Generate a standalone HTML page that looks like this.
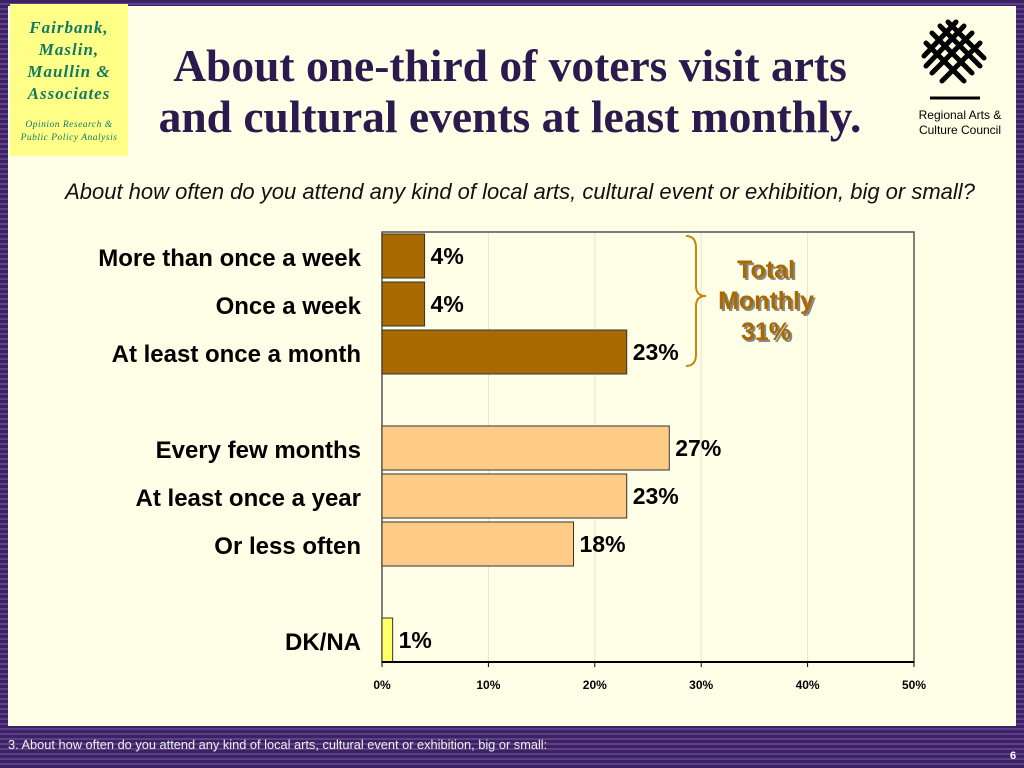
<!DOCTYPE html>
<html><head><meta charset="utf-8"><style>
body{margin:0;width:1024px;height:768px;overflow:hidden;font-family:"Liberation Sans",sans-serif}
#bg{position:absolute;left:0;top:0;width:1024px;height:768px;background:repeating-linear-gradient(#3a2360 0 3px,#5e3f8c 3px 5px)}
#cream{position:absolute;left:8px;top:6px;width:1008px;height:720px;background:#ffffe8}
#logo{position:absolute;left:10px;top:4px;width:118px;height:152px;background:#ffff88;text-align:center;font-family:"Liberation Serif",serif;color:#127a64;font-style:italic;font-weight:bold}
</style></head><body>
<div id="bg"></div>
<div id="cream"></div>
<div id="logo">
<div style="font-size:17px;line-height:22px;margin-top:13px;letter-spacing:1px">Fairbank,<br>Maslin,<br>Maullin &amp;<br>Associates</div>
<div style="font-size:9.5px;font-weight:normal;line-height:13px;margin-top:14px;letter-spacing:0.5px">Opinion Research &amp;<br>Public Policy Analysis</div>
</div>
<div style="position:absolute;left:120px;top:40px;width:780px;text-align:center;font-family:'Liberation Serif',serif;font-weight:bold;font-size:45.5px;line-height:51px;color:#2a1a4e">About one-third of voters visit arts<br>and cultural events at least monthly.</div>
<svg style="position:absolute;left:920px;top:18px" width="70" height="82" viewBox="0 0 70 82">
<g stroke="#000" stroke-width="5" fill="none" stroke-linecap="round">
<path d="M12 15 L52 55 M20 8 L60 48 M6 25 L44 63 M28 4 L64 40"/>
<path d="M52 15 L12 55 M44 8 L6 48 M60 25 L22 63 M36 4 L4 38"/>
</g>
<line x1="10" y1="80" x2="60" y2="80" stroke="#000" stroke-width="3"/>
</svg>
<div style="position:absolute;left:910px;top:108px;width:100px;text-align:center;font-size:12px;line-height:15px">Regional Arts &amp;<br>Culture Council</div>
<div style="position:absolute;left:0;top:179px;width:1040px;text-align:center;font-style:italic;font-size:22px;color:#111;white-space:nowrap">About how often do you attend any kind of local arts, cultural event or exhibition, big or small?</div>
<svg id="chart" style="position:absolute;left:0;top:0" width="1024" height="768"></svg>
<div style="position:absolute;left:8px;top:737px;font-size:12.8px;color:#eee">3. About how often do you attend any kind of local arts, cultural event or exhibition, big or small:</div>
<div style="position:absolute;left:1010px;top:750px;font-size:11px;font-weight:bold;color:#fff">6</div>
<script>
const categories=["More than once a week","Once a week","At least once a month","Every few months","At least once a year","Or less often","DK/NA"];
const values=[4,4,23,27,23,18,1];
const rowIndex=[0,1,2,4,5,6,8];
const groups=[0,0,0,1,1,1,2];
const ticks=[0,10,20,30,40,50];
const colors=["#a86a00","#ffcc88","#ffff66"];
const NS="http://www.w3.org/2000/svg";
const svg=document.getElementById('chart');
const X0=382,X1=914,Y0=232,Y1=662;
const xs=v=>X0+(X1-X0)*v/50;
const yc=i=>Y0+24+i*48;
function el(t,a){const e=document.createElementNS(NS,t);for(const k in a)e.setAttribute(k,a[k]);svg.appendChild(e);return e;}
ticks.forEach(t=>{
 const g=el('line',{x1:xs(t),x2:xs(t),y1:Y0,y2:Y1,stroke:t===0?'none':'#e4e4d0'});
 
 
 const tk=el('line',{x1:xs(t),x2:xs(t),y1:Y1,y2:Y1+5,stroke:'#000'});
 
 
 const tx=el('text',{x:xs(t),y:Y1+27,'text-anchor':'middle','font-size':12,'font-weight':'bold'});
 tx.textContent=t+'%';
 
 
});
const fr=el('rect',{x:X0,y:Y0,width:X1-X0,height:Y1-Y0,fill:'none',stroke:'#555','stroke-width':1.5});


categories.forEach((c,i)=>{
 const y=yc(rowIndex[i]);
 const b=el('rect',{x:X0,y:y-22,width:xs(values[i])-X0,height:44,fill:colors[groups[i]],stroke:'#333'});
 
 
 const l=el('text',{x:361,y:y+10,'text-anchor':'end','font-size':24,'font-weight':'bold'});
 l.textContent=c;
 
 
 const v=el('text',{x:xs(values[i])+6,y:y+8,'font-size':23,'font-weight':'bold'});
 v.textContent=values[i]+'%';
 
 
});
const ax=el('line',{x1:X0,x2:X1,y1:Y1,y2:Y1,stroke:'#000','stroke-width':2});


const br=el('path',{d:'M686 236 Q696 236 696 248 L696 286 Q696 296 706 296 Q696 296 696 306 L696 354 Q696 366 686 366',fill:'none',stroke:'#c8860a','stroke-width':2});


['Total','Monthly','31%'].forEach((t,i)=>{
 const sh=el('text',{x:768,y:280+i*31,'text-anchor':'middle','font-size':25,'font-weight':'bold',fill:'#888'});
 sh.textContent=t;
 
 
 const tt=el('text',{x:766,y:278+i*31,'text-anchor':'middle','font-size':25,'font-weight':'bold',fill:'#a86a00'});
 tt.textContent=t;
 
 
});
</script>
</body></html>
